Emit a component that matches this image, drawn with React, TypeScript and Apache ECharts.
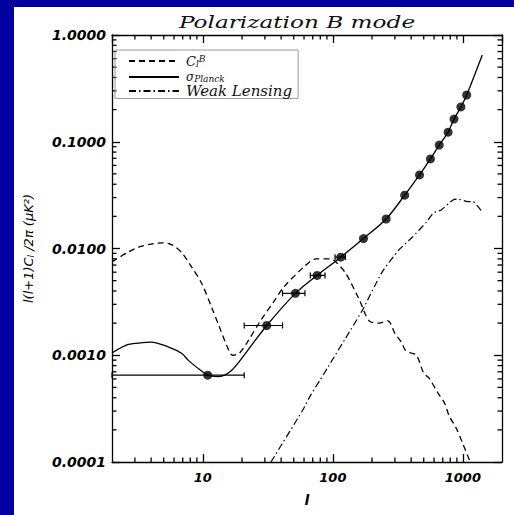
import React, { useEffect, useRef } from "react";
import * as echarts from "echarts";

const X_MIN = 2;
const X_MAX = 2000;
const Y_MIN = 0.0001;
const Y_MAX = 1;

const xTickLabels = ["10", "100", "1000"];
const yTickLabels = ["0.0001", "0.0010", "0.0100", "0.1000", "1.0000"];
const minorMultipliers = [2, 3, 4, 5, 6, 7, 8, 9];

// C_l^B (dashed)
const cbL = [2, 2.6, 3.2, 4, 4.9, 5.8, 6.9, 8.2, 9.8, 11.7, 13.4, 15.2, 16.9, 19, 22, 28, 35, 42, 59, 74, 95, 105, 125, 160, 190, 227, 265, 300, 340, 360, 400, 440, 500, 550, 645, 720, 785, 885, 1000, 1140];
const cbV = [0.0075, 0.0091, 0.0103, 0.011, 0.0113, 0.0108, 0.0091, 0.0067, 0.0047, 0.0028, 0.00184, 0.00125, 0.001, 0.00104, 0.00133, 0.00214, 0.00316, 0.00436, 0.0066, 0.008, 0.008, 0.0075, 0.0059, 0.0033, 0.0021, 0.002, 0.0021, 0.0016, 0.0013, 0.00112, 0.00105, 0.001, 0.00068, 0.00061, 0.00044, 0.00036, 0.00027, 0.00021, 0.000148, 0.0001];

// sigma_Planck (solid) low-l part
const sigLowL = [2, 2.6, 3.2, 4, 5.4, 6.9, 7.7, 9.5];
const sigLowV = [0.00105, 0.00125, 0.0013, 0.00133, 0.0012, 0.00104, 0.0009, 0.00073];
// points with markers
const markerL = [10.9, 31, 51.5, 75.7, 115, 172, 257, 357, 464, 563, 658, 770, 855, 966, 1070];
const markerV = [0.00065, 0.0019, 0.0038, 0.0056, 0.0083, 0.0124, 0.0189, 0.0316, 0.0489, 0.069, 0.093, 0.123, 0.163, 0.212, 0.274];
const sigMidL = [13, 16.6, 22];
const sigMidV = [0.00063, 0.00072, 0.0011];
const sigEndL = [1410];
const sigEndV = [0.65];
// horizontal error bars on the first markers
const errL = [10.9, 31, 51.5, 75.7, 115];
const errV = [0.00065, 0.0019, 0.0038, 0.0056, 0.0083];
const errLo = [2, 20.8, 41, 67, 104];
const errHi = [20.8, 41, 61, 87, 125];

// Weak lensing (dash-dot)
const wlL = [33.4, 59, 68, 80, 92, 137, 169, 239, 322, 404, 525, 593, 681, 840, 915, 1090, 1190, 1370, 1410];
const wlV = [0.0001, 0.00031, 0.00043, 0.00059, 0.00078, 0.00173, 0.00265, 0.006, 0.0097, 0.0126, 0.0177, 0.0215, 0.023, 0.0285, 0.029, 0.0275, 0.0275, 0.023, 0.0215];

const NAME_CB = "C_l^B";
const NAME_SIG = "σ_Planck";
const NAME_WL = "Weak Lensing";

const zip = (a: number[], b: number[]) => a.map((v, i) => [v, b[i]]);
const isPow10 = (v: number) => Math.abs(Math.log10(v) - Math.round(Math.log10(v))) < 1e-6;

export default function App() {
  const ref = useRef<HTMLDivElement>(null);
  useEffect(() => {
    if (!ref.current) return;
    const chart = echarts.init(ref.current, undefined, { renderer: "svg" });

    const decadesX = [1, 10, 100, 1000];
    const xMinor: number[][] = [];
    decadesX.forEach((d) => minorMultipliers.forEach((m) => {
      const v = m * d;
      if (v > X_MIN && v < X_MAX) xMinor.push([v, Y_MIN]);
    }));
    const decadesY = [0.0001, 0.001, 0.01, 0.1];
    const yMinor: number[][] = [];
    decadesY.forEach((d) => minorMultipliers.forEach((m) => {
      const v = m * d;
      if (v > Y_MIN && v < Y_MAX) yMinor.push([X_MIN, v]);
    }));

    const black = "#000";
    const axisLine = { show: true, onZero: false, lineStyle: { color: black, width: 1.3 } };
    const tick = { show: true, inside: true, length: 8, lineStyle: { color: black, width: 1.3 } };
    const labelFont = { fontFamily: "DejaVu Sans", fontStyle: "italic" as const, fontWeight: "bold" as const, color: black };
    const serif = { fontFamily: "DejaVu Serif", fontStyle: "italic" as const, color: "#111" };

    const sigData = [...zip(sigLowL, sigLowV), [markerL[0], markerV[0]], ...zip(sigMidL, sigMidV), ...zip(markerL.slice(1), markerV.slice(1)), ...zip(sigEndL, sigEndV)];

    chart.setOption({
      animation: false,
      backgroundColor: "#fff",
      grid: { left: 92, top: 28, right: 12, bottom: 53, containLabel: false },
      graphic: [
        {
          type: "text",
          x: 283,
          y: 8,
          scaleX: 1.45,
          style: {
            text: "Polarization B mode",
            fontFamily: "DejaVu Serif",
            fontStyle: "italic",
            fontSize: 16,
            fill: "#111",
            textAlign: "center",
            textVerticalAlign: "top",
          },
        },
      ],
      legend: {
        orient: "vertical",
        left: 101,
        top: 43,
        padding: [4, 6, 0, 13],
        itemGap: 0,
        itemWidth: 50,
        itemHeight: 16,
        borderColor: "#999",
        borderWidth: 1,
        itemStyle: { color: "rgba(0,0,0,0)", borderWidth: 0, opacity: 0 },
        data: [NAME_CB, NAME_SIG, NAME_WL],
        formatter: (name: string) => {
          if (name === NAME_CB) return "{c|C}{sub1|l}{sup|B}";
          if (name === NAME_SIG) return "{sm|σ}{sub|Planck}";
          return "{it|Weak Lensing}";
        },
        textStyle: {
          width: 118,
          padding: [0, 0, 0, 2],
          ...serif,
          fontSize: 15,
          rich: {
            it: { ...serif, fontSize: 15, lineHeight: 14 },
            c: { ...serif, fontSize: 13, lineHeight: 14 },
            sm: { ...serif, fontSize: 12, verticalAlign: "bottom", lineHeight: 12, padding: [3, 0, 0, 0] },
            sub: { ...serif, fontSize: 9, verticalAlign: "bottom", lineHeight: 6 },
            sub1: { ...serif, fontSize: 9, verticalAlign: "bottom", lineHeight: 10 },
            sup: { ...serif, fontSize: 9, verticalAlign: "top", lineHeight: 6 },
          },
        },
      },
      xAxis: [
        {
          type: "log",
          logBase: 10,
          min: X_MIN,
          max: X_MAX,
          position: "bottom",
          axisLine,
          axisTick: tick,
          splitLine: { show: false },
          axisLabel: {
            ...labelFont,
            fontSize: 13,
            margin: 9,
            showMinLabel: false,
            showMaxLabel: false,
            formatter: (v: number) => {
              const s = String(Math.round(v));
              return isPow10(v) && xTickLabels.includes(s) ? s : "";
            },
          },
          name: "l",
          nameLocation: "middle",
          nameGap: 31,
          nameTextStyle: { ...labelFont, fontSize: 14 },
        },
        {
          type: "log",
          logBase: 10,
          min: X_MIN,
          max: X_MAX,
          position: "top",
          axisLine,
          axisTick: tick,
          axisLabel: { show: false },
          splitLine: { show: false },
        },
      ],
      yAxis: [
        {
          type: "log",
          logBase: 10,
          min: Y_MIN,
          max: Y_MAX,
          position: "left",
          axisLine,
          axisTick: tick,
          splitLine: { show: false },
          axisLabel: {
            ...labelFont,
            fontSize: 14,
            margin: 6,
            formatter: (v: number) => {
              const s = v.toFixed(4);
              return isPow10(v) && yTickLabels.includes(s) ? s : "";
            },
          },
          name: "{a|l(l+1)C}{s|l}{a| /2π (μK²)}",
          nameLocation: "middle",
          nameGap: 77,
          nameRotate: 90,
          nameTextStyle: {
            ...labelFont,
            fontWeight: "normal",
            fontSize: 13,
            rich: {
              a: { fontFamily: "DejaVu Sans", fontStyle: "italic", fontSize: 13, color: black },
              s: { fontFamily: "DejaVu Sans", fontStyle: "italic", fontSize: 9, color: black, verticalAlign: "bottom", lineHeight: 6 },
            },
          },
        },
        {
          type: "log",
          logBase: 10,
          min: Y_MIN,
          max: Y_MAX,
          position: "right",
          axisLine,
          axisTick: tick,
          axisLabel: { show: false },
          splitLine: { show: false },
        },
      ],
      series: [
        {
          name: NAME_CB,
          type: "line",
          data: zip(cbL, cbV),
          symbol: "none",
          showSymbol: false,
          smooth: 0.3,
          lineStyle: { color: black, width: 1.3, type: [6, 4] },
          itemStyle: { color: black },
        },
        {
          name: NAME_SIG,
          type: "line",
          data: sigData,
          symbol: "none",
          showSymbol: false,
          smooth: 0.3,
          lineStyle: { color: black, width: 1.3, type: "solid" },
          itemStyle: { color: black },
        },
        {
          name: NAME_WL,
          type: "line",
          data: zip(wlL, wlV),
          symbol: "none",
          showSymbol: false,
          smooth: 0.2,
          lineStyle: { color: black, width: 1.2, type: [7, 3, 1.5, 3] },
          itemStyle: { color: black },
        },
        {
          name: "markers",
          type: "scatter",
          data: zip(markerL, markerV),
          symbol: "circle",
          symbolSize: 9,
          itemStyle: { color: black },
          z: 5,
        },
        {
          name: "errors",
          type: "custom",
          data: errL.map((l, i) => [l, errV[i], errLo[i], errHi[i]]),
          clip: false,
          renderItem: (_p: any, api: any) => {
            const v = api.value(1);
            const a = api.coord([api.value(2), v]);
            const b = api.coord([api.value(3), v]);
            const st = { stroke: black, lineWidth: 1.2 };
            return {
              type: "group",
              children: [
                { type: "line", shape: { x1: a[0], y1: a[1], x2: b[0], y2: b[1] }, style: st },
                { type: "line", shape: { x1: a[0], y1: a[1] - 3, x2: a[0], y2: a[1] + 3 }, style: st },
                { type: "line", shape: { x1: b[0], y1: b[1] - 3, x2: b[0], y2: b[1] + 3 }, style: st },
              ],
            };
          },
          z: 4,
        },
        {
          name: "xminor",
          type: "custom",
          data: xMinor,
          clip: false,
          renderItem: (_p: any, api: any) => {
            const x = api.value(0);
            const b = api.coord([x, Y_MIN]);
            const t = api.coord([x, Y_MAX]);
            const st = { stroke: black, lineWidth: 1.3 };
            return {
              type: "group",
              children: [
                { type: "line", shape: { x1: b[0], y1: b[1], x2: b[0], y2: b[1] - 4.5 }, style: st },
                { type: "line", shape: { x1: t[0], y1: t[1], x2: t[0], y2: t[1] + 4.5 }, style: st },
              ],
            };
          },
        },
        {
          name: "yminor",
          type: "custom",
          data: yMinor,
          clip: false,
          renderItem: (_p: any, api: any) => {
            const y = api.value(1);
            const l = api.coord([X_MIN, y]);
            const r = api.coord([X_MAX, y]);
            const st = { stroke: black, lineWidth: 1.3 };
            return {
              type: "group",
              children: [
                { type: "line", shape: { x1: l[0], y1: l[1], x2: l[0] + 4.5, y2: l[1] }, style: st },
                { type: "line", shape: { x1: r[0], y1: r[1], x2: r[0] - 4.5, y2: r[1] }, style: st },
              ],
            };
          },
        },
      ],
    });
    return () => chart.dispose();
  }, []);

  return (
    <div style={{ position: "fixed", left: 0, top: 0, width: 514, height: 515, background: "#0000A0", overflow: "hidden" }}>
      <div ref={ref} style={{ position: "absolute", left: 14, top: 7, width: 500, height: 508, background: "#fff" }} />
    </div>
  );
}
